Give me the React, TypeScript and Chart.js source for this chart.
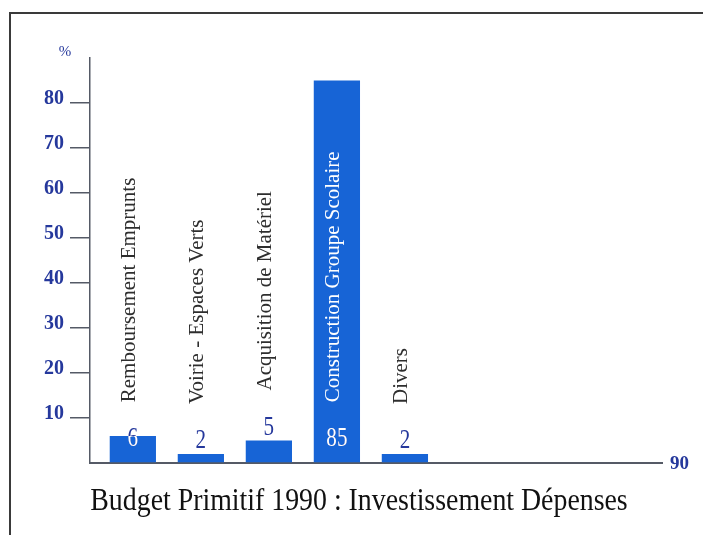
import React, { useEffect, useRef } from "react";
import { Chart, registerables } from "chart.js";

Chart.register(...registerables);

// ---- data ----
const categories = [
  "Remboursement Emprunts",
  "Voirie - Espaces Verts",
  "Acquisition de Matériel",
  "Construction Groupe Scolaire",
  "Divers",
];
const positions = [1, 2, 3, 4, 5];
const values = [6, 2, 5, 85, 2];
const yTicks = [10, 20, 30, 40, 50, 60, 70, 80];
const yMax = 90;
const xEndLabel = "90";
const unitLabel = "%";
const titleText = "Budget Primitif 1990 : Investissement Dépenses";

// ---- styles ----
const BAR_BLUE = "#1764d6";
const TICK_BLUE = "#25389c";
const AXIS = "#555a66";
const TEXT = "#2e2e2e";
const SERIF = '"Liberation Serif", "DejaVu Serif", serif';

const decorPlugin = {
  id: "decor",
  beforeDraw(chart: any) {
    const ctx = chart.ctx;
    ctx.save();
    ctx.fillStyle = "#ffffff";
    ctx.fillRect(0, 0, chart.width, chart.height);
    // frame
    ctx.strokeStyle = "#3a3a3a";
    ctx.lineWidth = 2;
    ctx.beginPath();
    ctx.moveTo(chart.width, 13);
    ctx.lineTo(10, 13);
    ctx.lineTo(10, chart.height);
    ctx.stroke();
    ctx.restore();
  },
  afterDraw(chart: any) {
    const ctx = chart.ctx;
    const area = chart.chartArea;
    ctx.save();
    // unit label
    ctx.fillStyle = TICK_BLUE;
    ctx.font = `15px ${SERIF}`;
    ctx.textAlign = "center";
    ctx.textBaseline = "middle";
    ctx.fillText(unitLabel, 65, 52);
    // x axis end label
    ctx.font = `bold 19px ${SERIF}`;
    ctx.textAlign = "left";
    ctx.fillText(xEndLabel, area.right + 8, area.bottom + 1);
    // title
    ctx.fillStyle = "#111111";
    ctx.font = `32px ${SERIF}`;
    ctx.textAlign = "center";
    ctx.textBaseline = "alphabetic";
    ctx.translate(359, 510);
    ctx.scale(0.87, 1);
    ctx.fillText(titleText, 0, 0);
    ctx.restore();
  },
};

const barLabelPlugin = {
  id: "barLabels",
  afterDatasetsDraw(chart: any) {
    const ctx = chart.ctx;
    const meta = chart.getDatasetMeta(0);
    meta.data.forEach((bar: any, i: number) => {
      const { x, y, base, width } = bar.getProps(["x", "y", "base", "width"], true);
      const inside = base - y >= 25;
      const valBase = inside ? base - 16 : y - 6;
      const drawValue = (color: string) => {
        ctx.save();
        ctx.fillStyle = color;
        ctx.font = `27px ${SERIF}`;
        ctx.textAlign = "center";
        ctx.textBaseline = "alphabetic";
        ctx.translate(x, valBase);
        ctx.scale(0.78, 1);
        ctx.fillText(String(values[i]), 0, 0);
        ctx.restore();
      };
      drawValue(TICK_BLUE);
      if (inside) {
        ctx.save();
        ctx.beginPath();
        ctx.rect(x - width / 2, y, width, base - y);
        ctx.clip();
        drawValue("#ffffff");
        ctx.restore();
      }

      const start = valBase - 18 - 26;
      ctx.save();
      ctx.font = `21px ${SERIF}`;
      const w = ctx.measureText(categories[i]).width;
      ctx.fillStyle = y < start - w ? "#ffffff" : TEXT;
      ctx.translate(x - 3, start);
      ctx.rotate(-Math.PI / 2);
      ctx.textAlign = "left";
      ctx.textBaseline = "middle";
      ctx.fillText(categories[i], 0, 0);
      ctx.restore();
    });
  },
};

export default function App() {
  const ref = useRef<HTMLCanvasElement | null>(null);
  useEffect(() => {
    if (!ref.current) return;
    const chart = new Chart(ref.current, {
      type: "bar",
      data: {
        datasets: [
          {
            data: positions.map((p, i) => ({ x: p, y: values[i] })),
            backgroundColor: BAR_BLUE,
            borderWidth: 0,
            barPercentage: 0.68,
            categoryPercentage: 1,
          },
        ],
      },
      options: {
        animation: false,
        responsive: false,
        maintainAspectRatio: false,
        layout: { padding: { left: 8, top: 58, right: 41, bottom: 72 } },
        plugins: {
          legend: { display: false },
          tooltip: { enabled: false },
          title: { display: false },
        },
        scales: {
          x: {
            type: "linear",
            min: 0.37,
            max: 8.78,
            offset: false,
            afterFit: (s: any) => {
              s.height = 0;
            },
            afterBuildTicks: (s: any) => {
              s.ticks = positions.map((v) => ({ value: v }));
            },
            ticks: { display: false },
            grid: { offset: false, drawOnChartArea: false, drawTicks: false },
            border: { color: AXIS, width: 2 },
          },
          y: {
            min: 0,
            max: yMax,
            afterFit: (s: any) => {
              s.width = 82;
            },
            ticks: {
              stepSize: 10,
              color: TICK_BLUE,
              padding: 6,
              labelOffset: -4,
              font: { family: SERIF, size: 20, weight: "bold" },
              callback: (v: any) => (yTicks.includes(Number(v)) ? String(v) : ""),
            },
            grid: {
              drawOnChartArea: false,
              tickLength: 20,
              lineWidth: 1.5,
              color: (c: any) =>
                c.tick && yTicks.includes(c.tick.value) ? AXIS : "rgba(0,0,0,0)",
            },
            border: { color: AXIS, width: 1.5 },
          },
        },
      } as any,
      plugins: [decorPlugin, barLabelPlugin],
    });
    return () => chart.destroy();
  }, []);
  return (
    <div
      style={{
        position: "fixed",
        left: 0,
        top: 0,
        width: 703,
        height: 535,
        background: "#fff",
      }}
    >
      <canvas ref={ref} width={703} height={535} />
    </div>
  );
}
